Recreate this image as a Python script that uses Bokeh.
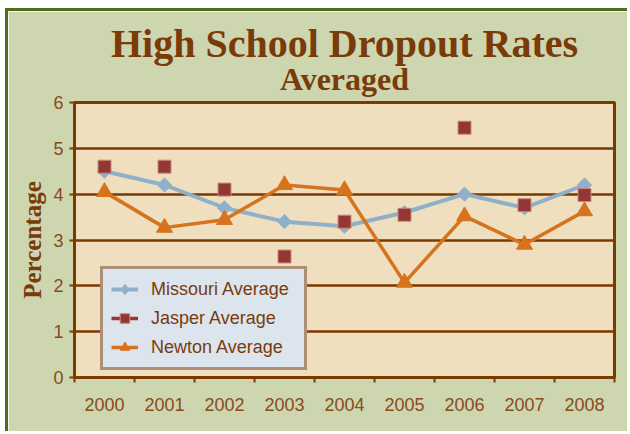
import numpy as np
from bokeh.plotting import figure
from bokeh.models import FixedTicker, Title, Legend, LegendItem, Range1d
from bokeh.embed import file_html
from bokeh.resources import INLINE

years = [2000, 2001, 2002, 2003, 2004, 2005, 2006, 2007, 2008]
missouri = [4.5, 4.2, 3.7, 3.4, 3.3, 3.6, 4.0, 3.7, 4.2]
jasper = [4.6, 4.6, 4.1, 2.64, 3.4, 3.55, 5.45, 3.76, 3.98]
newton = [4.05, 3.27, 3.44, 4.2, 4.09, 2.07, 3.52, 2.9, 3.63]
y_ticks = [0, 1, 2, 3, 4, 5, 6]
title_text = "High School Dropout Rates"
subtitle_text = "Averaged"

BROWN = "#7A3A00"
TEXT = "#8A4A1C"
TITLE = "#7A3A0A"
SANS = "Liberation Sans"
SERIF = "Liberation Serif"
GREEN_LINE = "#4E6B1F"

p = figure(width=622, height=423,
           x_range=Range1d(1999.5, 2008.5), y_range=Range1d(0, 6),
           output_backend="svg", toolbar_location=None,
           min_border_left=66, min_border_right=16,
           min_border_top=91, min_border_bottom=57,
           background_fill_color="#F0DFBF", border_fill_color="#CDD6AE",
           outline_line_color=BROWN, outline_line_width=3)
p.styles = {"margin-top": "8px", "margin-left": "5px",
            "border-top": "3px solid " + GREEN_LINE, "border-left": "3px solid " + GREEN_LINE}

p.add_layout(Title(text=subtitle_text, align="center", text_font_size="32px",
                   text_font=SERIF, text_font_style="bold",
                   text_color=TITLE, standoff=12), "above")
p.add_layout(Title(text=title_text, align="center", text_font_size="40px",
                   text_font=SERIF, text_font_style="bold",
                   text_color=TITLE, standoff=-27), "above")

# axes
p.yaxis.ticker = FixedTicker(ticks=y_ticks)
p.yaxis.axis_line_color = BROWN
p.yaxis.axis_line_width = 3
p.yaxis.major_tick_line_color = BROWN
p.yaxis.major_tick_line_width = 2
p.yaxis.major_tick_out = 5
p.yaxis.major_tick_in = 0
p.yaxis.minor_tick_line_color = None
p.yaxis.major_label_text_font = SANS
p.yaxis.major_label_text_font_size = "18px"
p.yaxis.major_label_text_color = TEXT
p.yaxis.major_label_standoff = 6
p.yaxis.axis_label = "Percentage"
p.yaxis.axis_label_text_font = SERIF
p.yaxis.axis_label_text_font_style = "bold"
p.yaxis.axis_label_text_font_size = "25px"
p.yaxis.axis_label_text_color = TITLE
p.yaxis.axis_label_standoff = 4

p.xaxis.ticker = FixedTicker(ticks=years, minor_ticks=[y - 0.5 for y in years] + [years[-1] + 0.5])
p.xaxis.axis_line_color = BROWN
p.xaxis.axis_line_width = 3
p.xaxis.major_tick_line_color = None
p.xaxis.minor_tick_line_color = BROWN
p.xaxis.minor_tick_line_width = 2
p.xaxis.minor_tick_out = 5
p.xaxis.minor_tick_in = 0
p.xaxis.major_label_text_font = SANS
p.xaxis.major_label_text_font_size = "18px"
p.xaxis.major_label_text_color = TEXT
p.xaxis.major_label_standoff = 14

p.xgrid.visible = False
p.ygrid.ticker = FixedTicker(ticks=y_ticks)
p.ygrid.grid_line_color = BROWN
p.ygrid.grid_line_width = 2.5

# series
m_line = p.line(years, missouri, line_color="#8FB0C8", line_width=4)
m_pts = p.scatter(years, missouri, marker="square", angle=np.pi / 4, size=10,
                  fill_color="#8FB0C8", line_color="#8FB0C8")
m_leg = p.scatter(years, missouri, marker="diamond", size=16,
                  fill_color="#8FB0C8", line_color="#8FB0C8", line_width=1.5, visible=False)
n_line = p.line(years, newton, line_color="#D6731D", line_width=3.5)
n_pts = p.scatter(years, newton, marker="triangle", size=16,
                  fill_color="#D6731D", line_color="#D6731D")
j_line = p.line(years, jasper, line_color="#943634", line_width=3.5, visible=False)
j_pts = p.scatter(years, jasper, marker="square", size=13,
                  fill_color="#943634", line_color="#C98A80", line_width=1)

legend = Legend(items=[
    LegendItem(label="Missouri Average", renderers=[m_line, m_leg]),
    LegendItem(label="Jasper Average", renderers=[j_line, j_pts]),
    LegendItem(label="Newton Average", renderers=[n_line, n_pts]),
], location=(26, 7), background_fill_color="#DCE5EE", background_fill_alpha=1,
    border_line_color=BROWN, border_line_width=3,
    inactive_fill_alpha=0,
    label_text_font=SANS, label_text_font_size="18px", label_text_color=TITLE,
    glyph_width=27, glyph_height=24, label_height=24, spacing=5, padding=8,
    label_standoff=13, margin=0, label_width=145)
p.add_layout(legend)

open("out.html", "w").write(file_html(p, INLINE))
